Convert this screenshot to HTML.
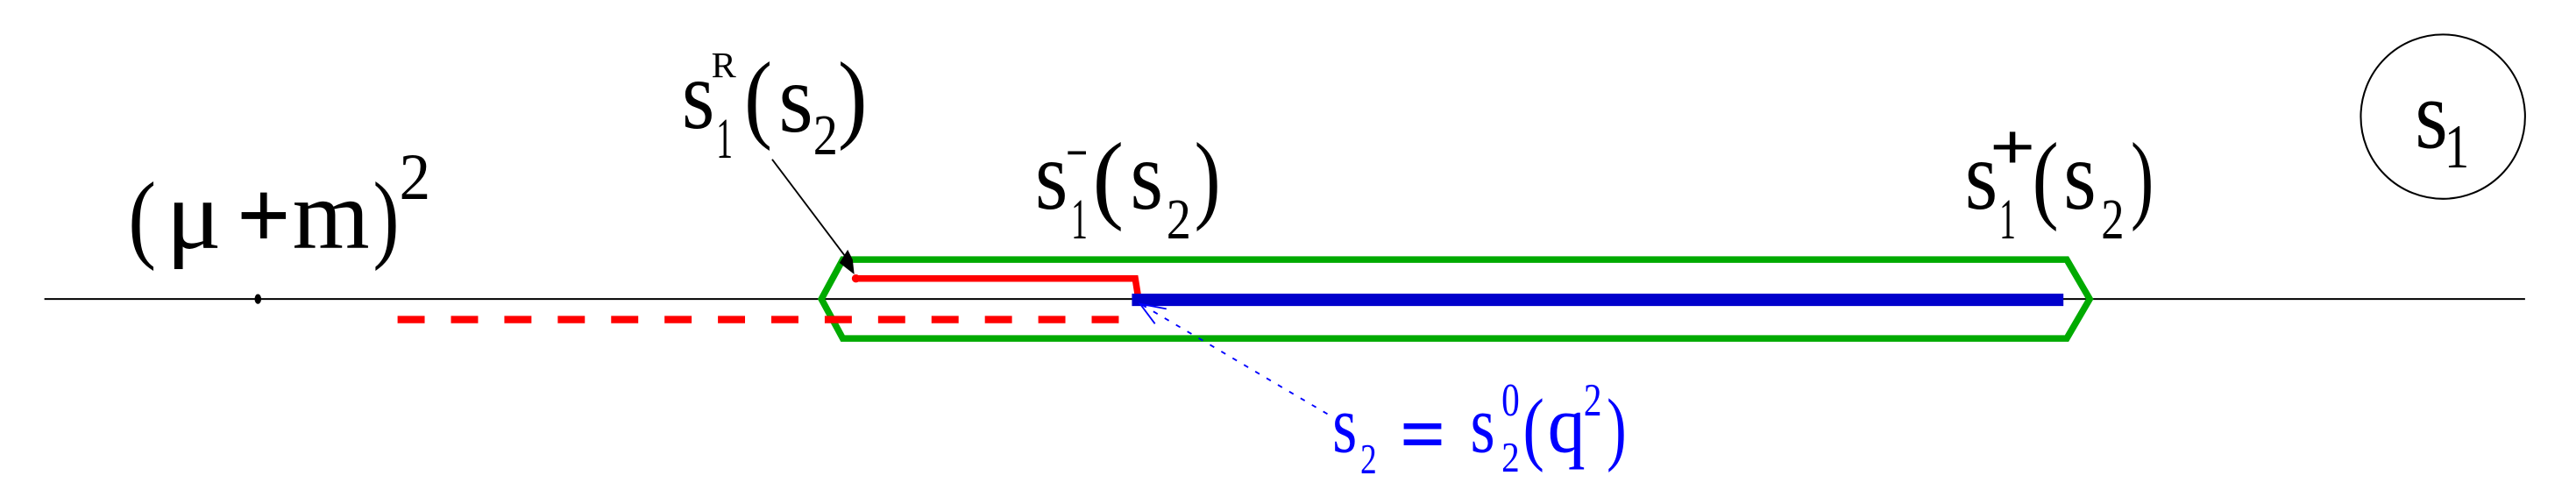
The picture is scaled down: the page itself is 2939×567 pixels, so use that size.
<!DOCTYPE html>
<html><head><style>html,body{margin:0;padding:0;background:#fff;}svg{display:block}svg text{font-family:"Liberation Serif","DejaVu Serif",serif;}</style></head>
<body>
<svg width="2939" height="567" viewBox="0 0 1568 302.5" preserveAspectRatio="none" xmlns="http://www.w3.org/2000/svg">
<line x1="27" y1="182" x2="1537" y2="182" stroke="#000" stroke-width="1.1"/>
<ellipse cx="157" cy="182" rx="2" ry="3" fill="#000"/>
<polygon points="500,182 513,158 1258,158 1272,182 1258,206 513,206" fill="none" stroke="#00aa00" stroke-width="4"/>
<line x1="242" y1="194.5" x2="686" y2="194.5" stroke="#ff0000" stroke-width="4.5" stroke-dasharray="16.5,16"/>
<polyline points="521,169.5 691,169.5 693,182" fill="none" stroke="#ff0000" stroke-width="4"/>
<circle cx="521" cy="169.5" r="2.5" fill="#ff0000"/>
<line x1="689" y1="182.5" x2="1256" y2="182.5" stroke="#0000cc" stroke-width="7.5"/>
<line x1="470" y1="97" x2="516" y2="158" stroke="#000" stroke-width="1"/>
<polygon points="520,167 511,160 516,152 519,158" fill="#000"/>
<line x1="808" y1="252" x2="696" y2="186" stroke="#0000ff" stroke-width="1" stroke-dasharray="3,5"/>
<polyline points="710,188 694,185 703,197" fill="none" stroke="#0000ff" stroke-width="1"/>
<ellipse cx="1487" cy="71" rx="50" ry="50" fill="none" stroke="#000" stroke-width="1.1"/>
<g font-size="60" fill="#000">
<text x="78" y="152" textLength="17" lengthAdjust="spacingAndGlyphs">(</text>
<text x="101" y="151" textLength="34" lengthAdjust="spacingAndGlyphs">μ</text>
<text x="144" y="151" textLength="33" lengthAdjust="spacingAndGlyphs" font-weight="bold">+</text>
<text x="178" y="151" textLength="47" lengthAdjust="spacingAndGlyphs">m</text>
<text x="227" y="152" textLength="16" lengthAdjust="spacingAndGlyphs">)</text>
<text x="243" y="121" font-size="40" textLength="19" lengthAdjust="spacingAndGlyphs">2</text>
<text x="415" y="78" textLength="20" lengthAdjust="spacingAndGlyphs">s</text>
<text x="433" y="47" font-size="22" textLength="15" lengthAdjust="spacingAndGlyphs">R</text>
<text x="436" y="96" font-size="35" textLength="10" lengthAdjust="spacingAndGlyphs">1</text>
<text x="453" y="79" textLength="17" lengthAdjust="spacingAndGlyphs">(</text>
<text x="474" y="80" textLength="21" lengthAdjust="spacingAndGlyphs">s</text>
<text x="495" y="94" font-size="35" textLength="15" lengthAdjust="spacingAndGlyphs">2</text>
<text x="510" y="79" textLength="18" lengthAdjust="spacingAndGlyphs">)</text>
<text x="630" y="127" textLength="20" lengthAdjust="spacingAndGlyphs">s</text>
<line x1="650" y1="93" x2="661" y2="93" stroke="#000" stroke-width="2"/>
<text x="652" y="145" font-size="35" textLength="10" lengthAdjust="spacingAndGlyphs">1</text>
<text x="665" y="128" textLength="19" lengthAdjust="spacingAndGlyphs">(</text>
<text x="688" y="127" textLength="20" lengthAdjust="spacingAndGlyphs">s</text>
<text x="710" y="145" font-size="35" textLength="15" lengthAdjust="spacingAndGlyphs">2</text>
<text x="727" y="128" textLength="16" lengthAdjust="spacingAndGlyphs">)</text>
<text x="1196" y="127" textLength="20" lengthAdjust="spacingAndGlyphs">s</text>
<text x="1211" y="103" font-size="40" font-weight="bold" textLength="28" lengthAdjust="spacingAndGlyphs">+</text>
<text x="1217" y="145" font-size="35" textLength="10" lengthAdjust="spacingAndGlyphs">1</text>
<text x="1237" y="128" textLength="16" lengthAdjust="spacingAndGlyphs">(</text>
<text x="1256" y="127" textLength="20" lengthAdjust="spacingAndGlyphs">s</text>
<text x="1279" y="145" font-size="35" textLength="14" lengthAdjust="spacingAndGlyphs">2</text>
<text x="1297" y="128" textLength="14" lengthAdjust="spacingAndGlyphs">)</text>
<text x="1470" y="90" textLength="20" lengthAdjust="spacingAndGlyphs">s</text>
<text x="1488" y="102" font-size="38" textLength="15" lengthAdjust="spacingAndGlyphs">1</text>
</g>
<g font-size="50" fill="#0000ff">
<text x="811" y="275" textLength="15" lengthAdjust="spacingAndGlyphs">s</text>
<text x="828" y="288" font-size="26" textLength="10" lengthAdjust="spacingAndGlyphs">2</text>
<text x="852" y="281" font-weight="bold" textLength="28" lengthAdjust="spacingAndGlyphs">=</text>
<text x="895" y="275" textLength="15" lengthAdjust="spacingAndGlyphs">s</text>
<text x="914" y="253" font-size="28" textLength="11" lengthAdjust="spacingAndGlyphs">0</text>
<text x="914" y="287" font-size="26" textLength="11" lengthAdjust="spacingAndGlyphs">2</text>
<text x="927" y="277" textLength="13" lengthAdjust="spacingAndGlyphs">(</text>
<text x="942" y="275" textLength="23" lengthAdjust="spacingAndGlyphs">q</text>
<text x="964" y="253" font-size="28" textLength="11" lengthAdjust="spacingAndGlyphs">2</text>
<text x="978" y="277" textLength="12" lengthAdjust="spacingAndGlyphs">)</text>
</g>
</svg>
</body></html>
